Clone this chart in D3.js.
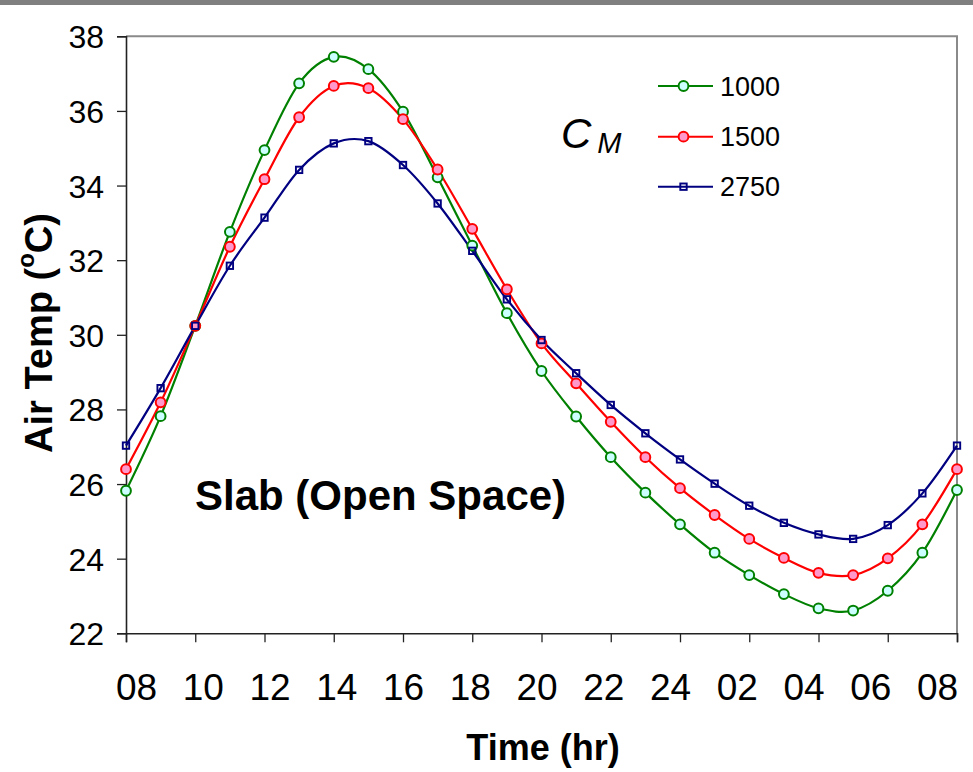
<!DOCTYPE html>
<html>
<head>
<meta charset="utf-8">
<script src="https://cdn.jsdelivr.net/npm/d3@7/dist/d3.min.js"></script>
<style>
  html, body { margin: 0; padding: 0; background: #fff; }
  svg { display: block; font-family: "Liberation Sans", Arial, sans-serif; }
</style>
</head>
<body>
<div id="chart"></div>
<script>
// ---- data ----
const hours = ["08","09","10","11","12","13","14","15","16","17","18","19","20",
               "21","22","23","24","01","02","03","04","05","06","07","08"];
const tickLabels = ["08","10","12","14","16","18","20","22","24","02","04","06","08"];
const yTicks = [22, 24, 26, 28, 30, 32, 34, 36, 38];
const seriesNames = ["1000", "1500", "2750"];
const cm1000 = [25.82, 27.82, 30.24, 32.76, 34.95, 36.74, 37.45, 37.12, 35.98, 34.22, 32.39, 30.58, 29.03,
                27.81, 26.72, 25.77, 24.92, 24.16, 23.56, 23.05, 22.67, 22.61, 23.14, 24.16, 25.84];
const cm1500 = [26.40, 28.19, 30.24, 32.36, 34.17, 35.83, 36.67, 36.61, 35.78, 34.43, 32.84, 31.22, 29.77,
                28.70, 27.67, 26.72, 25.89, 25.17, 24.53, 24.02, 23.62, 23.56, 24.01, 24.92, 26.40];
const cm2750 = [27.03, 28.57, 30.24, 31.85, 33.14, 34.42, 35.13, 35.19, 34.55, 33.52, 32.25, 30.95, 29.86,
                28.97, 28.12, 27.36, 26.66, 26.01, 25.42, 24.96, 24.65, 24.53, 24.90, 25.75, 27.03];

// ---- layout / styles ----
const W = 973, H = 772;
const mLeft = 126, mRight = 957, mTop = 36.3, mBottom = 633.3;
const styles = [
  { stroke: "#008000", fill: "#ccffff", shape: "circle" },
  { stroke: "#ff0000", fill: "#ff99cc", shape: "circle" },
  { stroke: "#000080", fill: "none",    shape: "square" }
];
const seriesData = [cm1000, cm1500, cm2750];

const svg = d3.select("#chart").append("svg").attr("width", W).attr("height", H);

// top grey band
svg.append("rect").attr("x", 0).attr("y", 0).attr("width", W).attr("height", 5).attr("fill", "#808080");

const x = d3.scaleLinear().domain([0, hours.length - 1]).range([mLeft, mRight]);
const y = d3.scaleLinear().domain([22, 38]).range([mBottom, mTop]);
const xLab = d3.scaleLinear().domain([0, tickLabels.length - 1]).range([136, 937]);

// plot border (top/right grey)
svg.append("path")
  .attr("d", `M${mLeft},${mTop}H${mRight}V${mBottom}`)
  .attr("fill", "none").attr("stroke", "#8a8a8a").attr("stroke-width", 2);

// y axis
const yAxis = svg.append("g").attr("transform", `translate(${mLeft},0)`)
  .call(d3.axisLeft(y).tickValues(yTicks).tickSize(9).tickPadding(13).tickFormat(d3.format("d")));
yAxis.select(".domain").attr("stroke", "#222").attr("stroke-width", 1.6);
yAxis.selectAll(".tick line").attr("stroke", "#222").attr("stroke-width", 1.3);
yAxis.selectAll(".tick text").attr("font-size", 32).attr("fill", "#000")
  .attr("font-family", "Liberation Sans, Arial, sans-serif").attr("dy", "0.36em");

// x axis (ticks every 2 h)
const xAxis = svg.append("g").attr("transform", `translate(0,${mBottom})`)
  .call(d3.axisBottom(x).tickValues(d3.range(0, hours.length, 2)).tickSize(9).tickFormat(""));
xAxis.select(".domain").attr("stroke", "#222").attr("stroke-width", 1.6);
xAxis.selectAll(".tick line").attr("stroke", "#222").attr("stroke-width", 1.3);

// x tick labels
const xLabAxis = svg.append("g").attr("transform", `translate(0,700)`)
  .call(d3.axisBottom(xLab).tickValues(d3.range(tickLabels.length)).tickSize(0).tickPadding(0)
        .tickFormat(i => tickLabels[i]));
xLabAxis.select(".domain").remove();
xLabAxis.selectAll(".tick text").attr("font-size", 37).attr("fill", "#000")
  .attr("font-family", "Liberation Sans, Arial, sans-serif").attr("dy", 0).attr("y", 0);

// axis titles
svg.append("text").attr("x", 543).attr("y", 760).attr("text-anchor", "middle")
  .attr("font-size", 36).attr("font-weight", "bold").text("Time (hr)");

const yt = svg.append("text").attr("transform", `translate(52,333) rotate(-90)`)
  .attr("text-anchor", "middle").attr("font-size", 38).attr("font-weight", "bold");
yt.append("tspan").text("Air Temp (");
yt.append("tspan").attr("font-size", 24).attr("dy", -18).text("o");
yt.append("tspan").attr("dy", 18).text("C)");

// annotation
svg.append("text").attr("x", 195).attr("y", 510).attr("font-size", 42).attr("font-weight", "bold")
  .text("Slab (Open Space)");

// lines
const line = d3.line().x((d, i) => x(i)).y(d => y(d)).curve(d3.curveCardinal.tension(0));
seriesData.forEach((vals, k) => {
  svg.append("path").datum(vals).attr("d", line)
    .attr("fill", "none").attr("stroke", styles[k].stroke).attr("stroke-width", 2.2);
});

function drawMarker(g, cx, cy, st) {
  if (st.shape === "circle") {
    g.append("circle").attr("cx", cx).attr("cy", cy).attr("r", 4.9)
      .attr("fill", st.fill).attr("stroke", st.stroke).attr("stroke-width", 2);
  } else {
    g.append("rect").attr("x", cx - 3.2).attr("y", cy - 3.2).attr("width", 6.4).attr("height", 6.4)
      .attr("fill", st.fill).attr("stroke", st.stroke).attr("stroke-width", 1.9);
  }
}
seriesData.forEach((vals, k) => {
  const g = svg.append("g");
  vals.forEach((v, i) => drawMarker(g, x(i), y(v), styles[k]));
});

// legend
const legY = [86, 136.7, 186.7];
seriesNames.forEach((name, k) => {
  const g = svg.append("g");
  g.append("line").attr("x1", 658).attr("x2", 713).attr("y1", legY[k]).attr("y2", legY[k])
    .attr("stroke", styles[k].stroke).attr("stroke-width", 2);
  drawMarker(g, 683.5, legY[k], styles[k]);
  g.append("text").attr("x", 720).attr("y", legY[k] + 9.5).attr("font-size", 27).text(name);
});

// C_M label
const cm = svg.append("text").attr("x", 561).attr("y", 148).attr("font-style", "italic");
cm.append("tspan").attr("font-size", 42).text("C");
cm.append("tspan").attr("font-size", 29).attr("dx", 6).attr("dy", 5).text("M");
</script>
</body>
</html>
